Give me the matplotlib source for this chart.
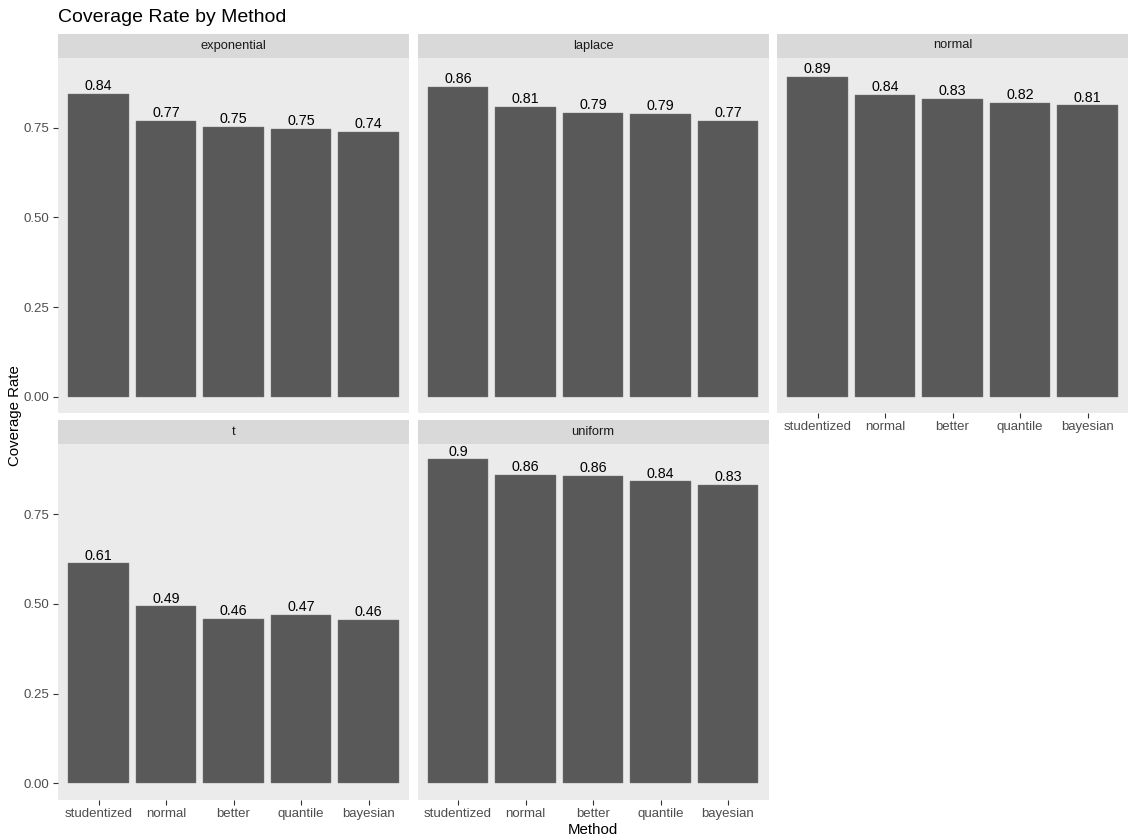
import matplotlib
matplotlib.use('Agg')
import matplotlib.pyplot as plt

plt.rcParams['font.family'] = ['Liberation Sans', 'DejaVu Sans']

methods = ['studentized', 'normal', 'better', 'quantile', 'bayesian']
dists = ['exponential', 'laplace', 'normal', 't', 'uniform']
exponential = [0.844, 0.769, 0.752, 0.747, 0.738]
laplace = [0.863, 0.808, 0.791, 0.788, 0.769]
normal = [0.891, 0.841, 0.830, 0.819, 0.812]
t_dist = [0.613, 0.493, 0.458, 0.470, 0.456]
uniform = [0.902, 0.859, 0.857, 0.841, 0.831]
rates = [exponential, laplace, normal, t_dist, uniform]

W, H = 1128, 840
fig = plt.figure(figsize=(W / 100, H / 100), dpi=100)

col_x = [58, 417.5, 777]
col_w = 351
row_strip = [33.5, 420]
strip_h = 24
panel_h = 355.5

bar_col = '#595959'
txt_gray = '#4D4D4D'

for i, (name, vals) in enumerate(zip(dists, rates)):
    r, c = divmod(i, 3)
    x0 = col_x[c]
    ys = row_strip[r]
    yp = ys + strip_h
    # strip
    sax = fig.add_axes([x0 / W, 1 - ys / H - strip_h / H, col_w / W, strip_h / H])
    sax.set_facecolor('#D9D9D9')
    sax.set_xticks([])
    sax.set_yticks([])
    for s in sax.spines.values():
        s.set_visible(False)
    sax.text(0.5, 0.5, name, ha='center', va='center', fontsize=9.3,
             color='#1A1A1A', transform=sax.transAxes)
    # panel
    ax = fig.add_axes([x0 / W, 1 - (yp + panel_h) / H, col_w / W, panel_h / H])
    ax.set_facecolor('#EBEBEB')
    for s in ax.spines.values():
        s.set_visible(False)
    xs = range(1, len(methods) + 1)
    ax.bar(xs, vals, width=0.9, color=bar_col, edgecolor='#7a7a7a', linewidth=0.3)
    for x, v in zip(xs, vals):
        ax.text(x, v + 0.002, f"{round(v, 2):g}", ha='center', va='bottom',
                fontsize=10.3, color='black')
    ax.set_xlim(0.4, 5.6)
    ax.set_ylim(-0.045, 0.945)
    ax.set_yticks([0, 0.25, 0.5, 0.75])
    ax.tick_params(colors='#333333', labelcolor=txt_gray, labelsize=9.5,
                   length=3.5, width=0.8, pad=2.5)
    if c == 0:
        ax.set_yticklabels(['0.00', '0.25', '0.50', '0.75'])
    else:
        ax.tick_params(axis='y', left=False, labelleft=False)
    show_x = r == 1 or i == 2
    ax.set_xticks(list(xs))
    if show_x:
        ax.set_xticklabels(methods)
    else:
        ax.tick_params(axis='x', bottom=False, labelbottom=False)

fig.text(58 / W, 1 - 17 / H, 'Coverage Rate by Method', ha='left', va='center',
         fontsize=14, color='black')
fig.text(15 / W, 1 - 416 / H, 'Coverage Rate', rotation=90, ha='center',
         va='center', fontsize=10.8)
fig.text(593 / W, 1 - 830 / H, 'Method', ha='center', va='center', fontsize=10.8)

fig.savefig('out.png', dpi=100)
